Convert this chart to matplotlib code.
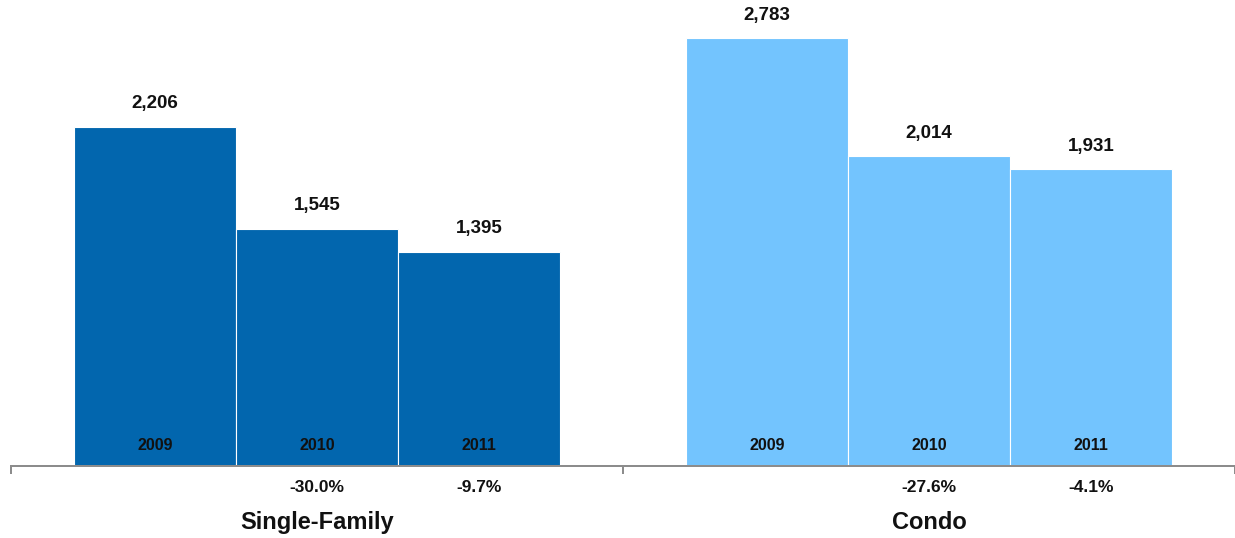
import matplotlib
matplotlib.use("Agg")
import matplotlib.pyplot as plt
import numpy as np

plt.rcParams['font.family'] = ['Liberation Sans', 'DejaVu Sans']

groups = ["Single-Family", "Condo"]
years = ["2009", "2010", "2011"]
values = {
    "Single-Family": [2206, 1545, 1395],
    "Condo": [2783, 2014, 1931],
}
pct_changes = {
    "Single-Family": ["", "-30.0%", "-9.7%"],
    "Condo": ["", "-27.6%", "-4.1%"],
}
colors = {"Single-Family": "#0266AE", "Condo": "#73C4FE"}

W, H = 1235, 538
fig = plt.figure(figsize=(W / 100, H / 100), dpi=100)
ax = fig.add_axes([11 / W, 72 / H, (W - 11) / W, 466 / H])

bw = 0.265
offsets = [-bw, 0, bw]
px = 1 / 1.389  # points per pixel at dpi 100

for gi, g in enumerate(groups):
    for yi, yr in enumerate(years):
        x = gi + offsets[yi]
        v = values[g][yi]
        ax.bar(x, v, width=bw, color=colors[g], edgecolor="white", linewidth=0.8, zorder=2)
        ax.annotate(f"{v:,}", (x, v), xytext=(0, 23 * px), textcoords="offset points",
                    ha="center", va="center", fontsize=13.5, fontweight="bold", color="#111111")
        ax.annotate(yr, (x, 0), xytext=(0, 21 * px), textcoords="offset points",
                    ha="center", va="center", fontsize=11.5, fontweight="bold", color="#111111")
        if pct_changes[g][yi]:
            ax.annotate(pct_changes[g][yi], (x, 0), xytext=(0, -22 * px), textcoords="offset points",
                        ha="center", va="center", fontsize=12.5, fontweight="bold", color="#111111",
                        annotation_clip=False)
    ax.annotate(g, (gi, 0), xytext=(0, -57 * px), textcoords="offset points",
                ha="center", va="center", fontsize=17, fontweight="bold", color="#111111",
                annotation_clip=False)

ax.set_xlim(-0.5, -0.5 + (W - 11) / 619)
ax.set_ylim(0, 466 / 0.1537)
for s in ["top", "right", "left"]:
    ax.spines[s].set_visible(False)
ax.spines["bottom"].set_color("#8c8c8c")
ax.spines["bottom"].set_linewidth(2 * px)
ax.spines["bottom"].set_zorder(3)
ax.set_yticks([])
ax.set_xticks([-0.5, 0.5, 1.5])
ax.set_xticklabels([])
ax.tick_params(axis="x", direction="out", length=8 * px, width=2 * px, color="#8c8c8c")

fig.savefig("out.png", dpi=100)
